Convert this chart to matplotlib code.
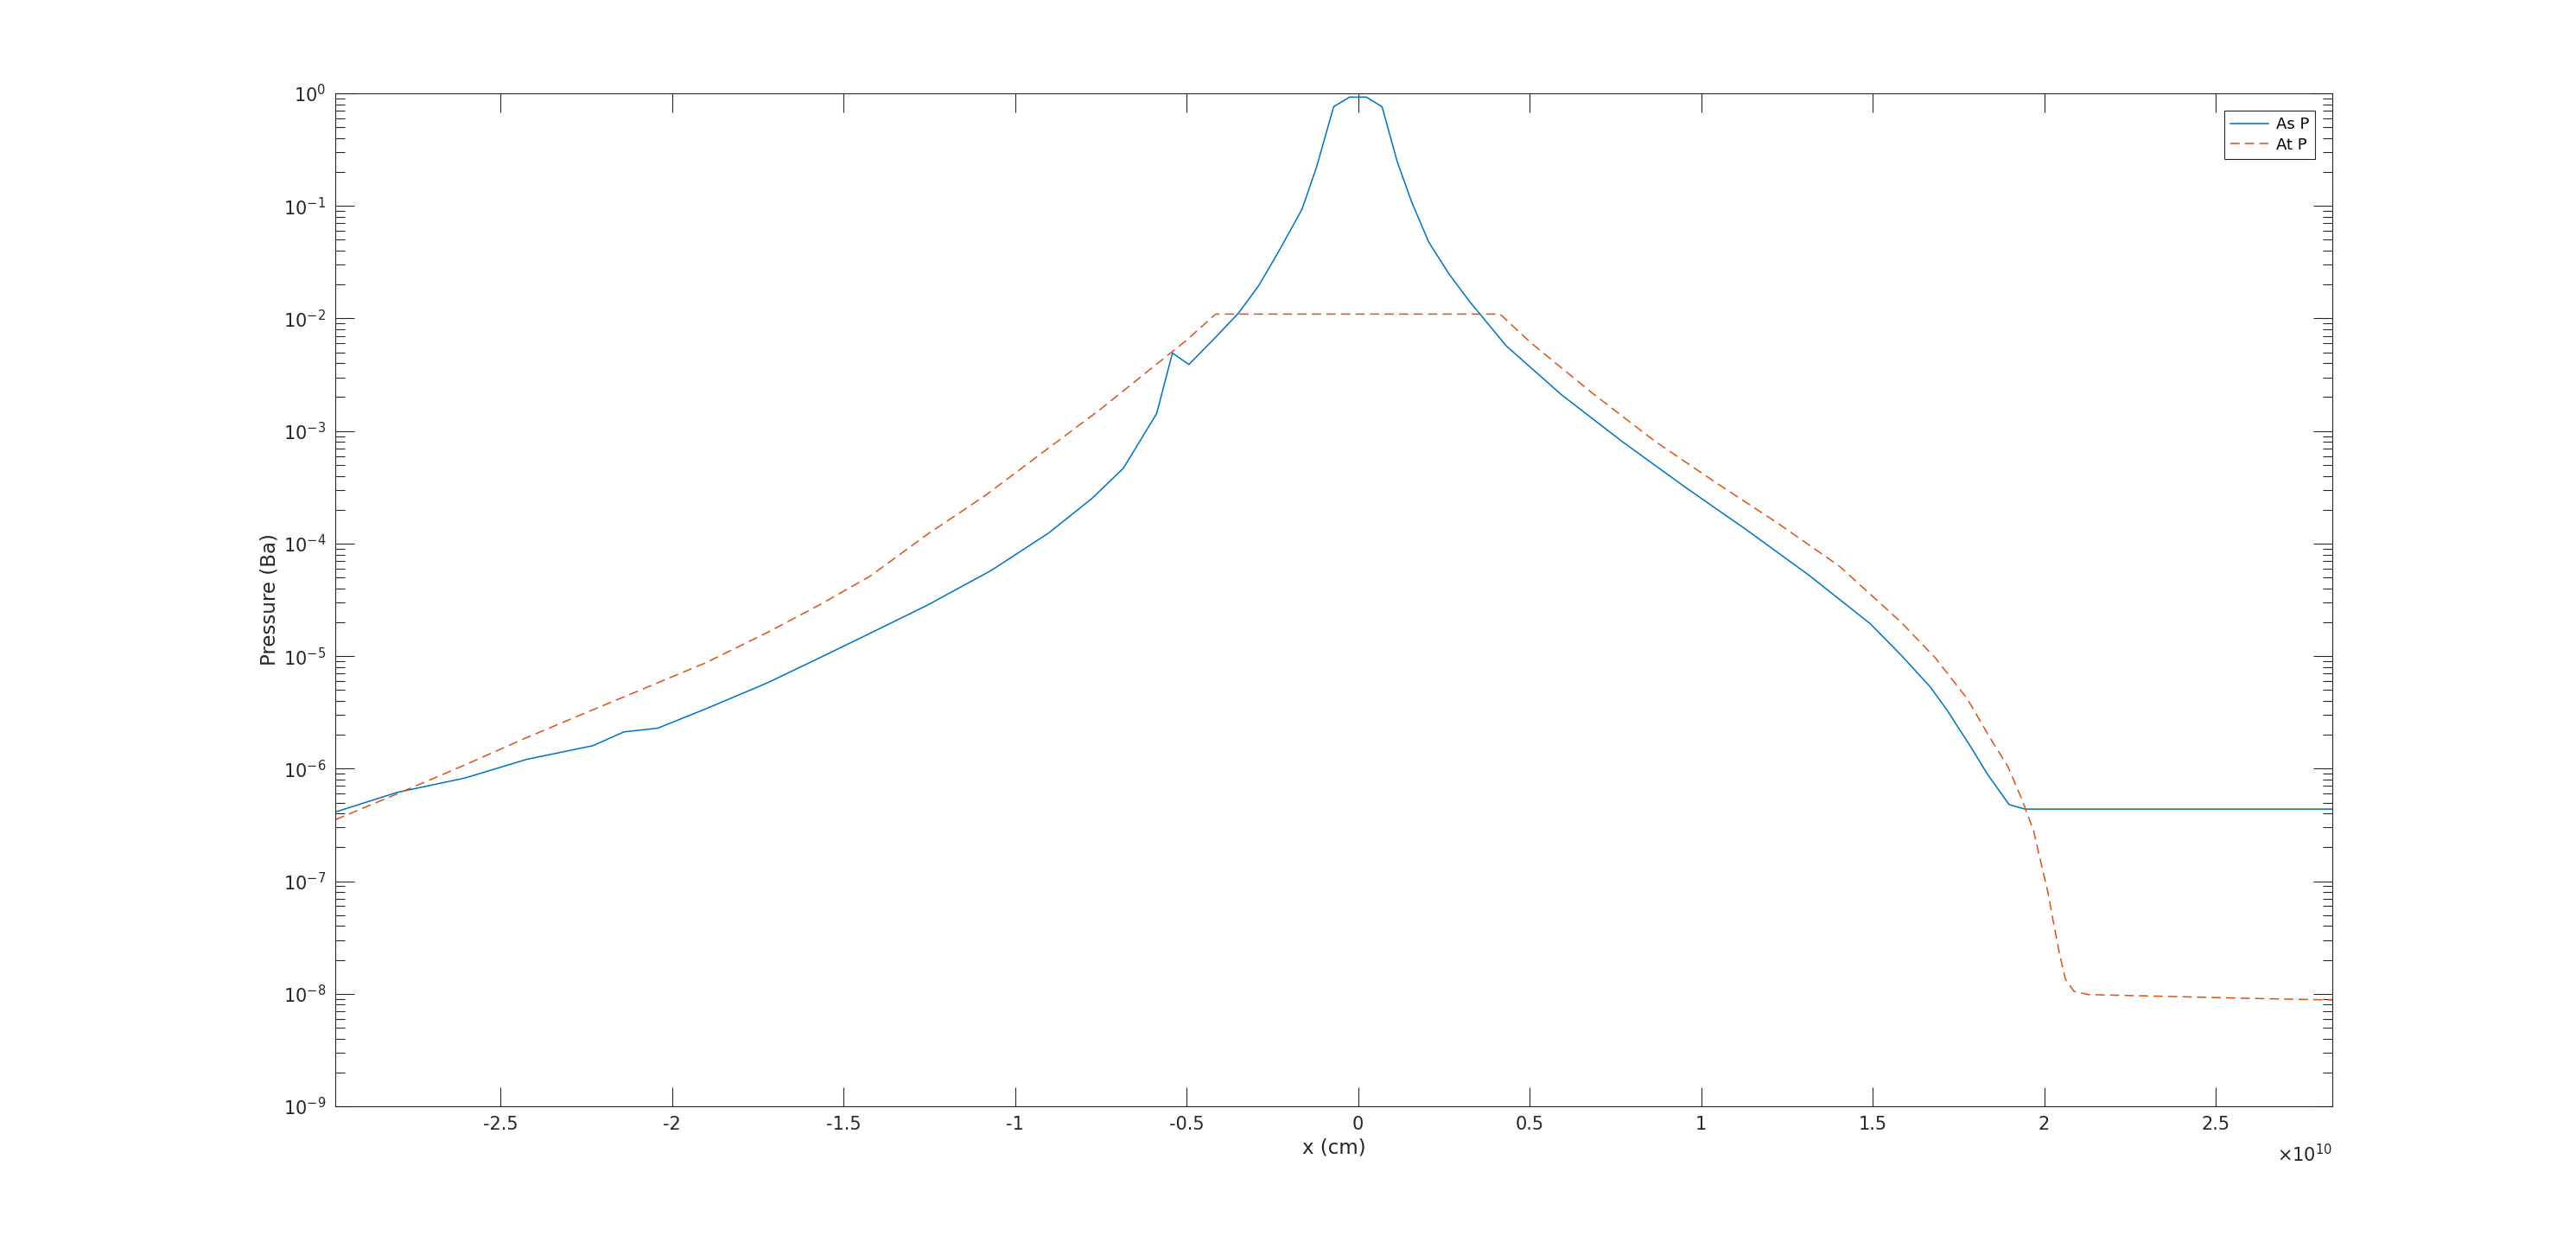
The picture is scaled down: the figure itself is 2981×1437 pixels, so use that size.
import numpy as np
import matplotlib
matplotlib.use('Agg')
import matplotlib.pyplot as plt
from matplotlib.ticker import FuncFormatter, LogLocator, NullLocator

# x in units of 1e10 cm, pressure in Ba
x_as = [-2.981, -2.801, -2.603, -2.423, -2.230, -2.140, -2.041, -1.901, -1.722, -1.571,
        -1.456, -1.255, -1.070, -0.902, -0.776, -0.684, -0.587, -0.541, -0.493, -0.415,
        -0.348, -0.289, -0.230, -0.163, -0.121, -0.071, -0.025, 0.024, 0.070, 0.114,
        0.156, 0.206, 0.265, 0.324, 0.432, 0.593, 0.773, 0.953, 1.133, 1.313,
        1.493, 1.583, 1.667, 1.717, 1.785, 1.835, 1.898, 1.944, 2.840]
p_as = [4.12e-7, 6.15e-7, 8.26e-7, 1.21e-6, 1.60e-6, 2.12e-6, 2.29e-6, 3.40e-6, 5.78e-6, 9.6e-6,
        1.42e-5, 2.84e-5, 5.75e-5, 1.24e-4, 2.51e-4, 4.67e-4, 1.43e-3, 4.93e-3, 3.90e-3, 6.82e-3,
        1.12e-2, 1.97e-2, 4.00e-2, 9.4e-2, 0.221, 0.762, 0.927, 0.927, 0.762, 0.249,
        0.109, 4.78e-2, 2.49e-2, 1.43e-2, 5.71e-3, 2.10e-3, 7.94e-4, 3.18e-4, 1.32e-4, 5.27e-5,
        1.94e-5, 1.02e-5, 5.37e-6, 3.31e-6, 1.58e-6, 8.9e-7, 4.79e-7, 4.37e-7, 4.37e-7]

x_at = [-2.981, -2.801, -2.603, -2.423, -2.234, -2.082, -1.901, -1.722, -1.571, -1.423,
        -1.255, -1.087, -0.919, -0.751, -0.583, -0.499, -0.428, -0.415, 0.414, 0.504,
        0.684, 0.864, 1.043, 1.223, 1.403, 1.583, 1.684, 1.776, 1.843, 1.894,
        1.936, 1.969, 1.994, 2.011, 2.028, 2.045, 2.062, 2.087, 2.129, 2.339,
        2.591, 2.840]
p_at = [3.52e-7, 5.97e-7, 1.08e-6, 1.89e-6, 3.30e-6, 5.14e-6, 8.73e-6, 1.62e-5, 2.84e-5, 5.12e-5,
        1.21e-4, 2.67e-4, 6.46e-4, 1.56e-3, 4.02e-3, 6.44e-3, 1.01e-2, 1.094e-2, 1.094e-2, 6.07e-3,
        2.16e-3, 8.17e-4, 3.48e-4, 1.52e-4, 6.30e-5, 2.0e-5, 9.55e-6, 4.17e-6, 1.86e-6, 1.05e-6,
        5.25e-7, 2.82e-7, 1.32e-7, 7.94e-8, 4.17e-8, 2.24e-8, 1.35e-8, 1.05e-8, 9.82e-9, 9.5e-9,
        9.1e-9, 8.8e-9]

x_ticks = [-2.5, -2, -1.5, -1, -0.5, 0, 0.5, 1, 1.5, 2, 2.5]

plt.rcParams['font.family'] = ['DejaVu Sans']
plt.rcParams['axes.unicode_minus'] = False
dark = '#262626'

fig = plt.figure(figsize=(29.81, 14.37), dpi=100)
ax = fig.add_axes([0.1302, 0.1093, 0.7752, 0.8155])

ax.plot(np.array(x_as) * 1e10, p_as, color='#0072BD', lw=1.1, label='As P')
ax.plot(np.array(x_at) * 1e10, p_at, color='#D95319', lw=1.1, ls=(0, (7, 4)), label='At P')

ax.set_yscale('log')
ax.set_xlim(-2.981e10, 2.840e10)
ax.set_ylim(1e-9, 1)

ax.set_xticks(np.array(x_ticks) * 1e10)
ax.xaxis.set_major_formatter(FuncFormatter(lambda v, p: '%g' % (round(v / 1e10, 2) + 0.0)))
ax.xaxis.set_minor_locator(NullLocator())
ax.yaxis.set_major_locator(LogLocator(base=10, numticks=20))
ax.yaxis.set_minor_locator(LogLocator(base=10, subs=np.arange(2, 10), numticks=20))

ax.tick_params(which='both', direction='in', top=True, right=True, colors=dark, labelsize=15)
ax.tick_params(which='major', length=16, width=0.8, pad=8)
ax.tick_params(which='minor', length=8, width=0.8)
for s in ax.spines.values():
    s.set_color(dark)
    s.set_linewidth(0.8)

ax.set_xlabel('x (cm)', fontsize=16.5, color=dark, labelpad=4)
ax.set_ylabel('Pressure (Ba)', fontsize=16.5, color=dark, labelpad=3)

ax.text(1.0, -0.055, r'$\times10^{10}$', transform=ax.transAxes, ha='right',
        va='baseline', fontsize=15, color=dark)

leg = ax.legend(loc='upper right', fontsize=13, fancybox=False, edgecolor=dark,
                framealpha=1, borderaxespad=1.1, handlelength=2.4, handletextpad=0.5,
                borderpad=0.4, labelspacing=0.3)
leg.get_frame().set_linewidth(0.8)

fig.savefig('out.png', dpi=100)
